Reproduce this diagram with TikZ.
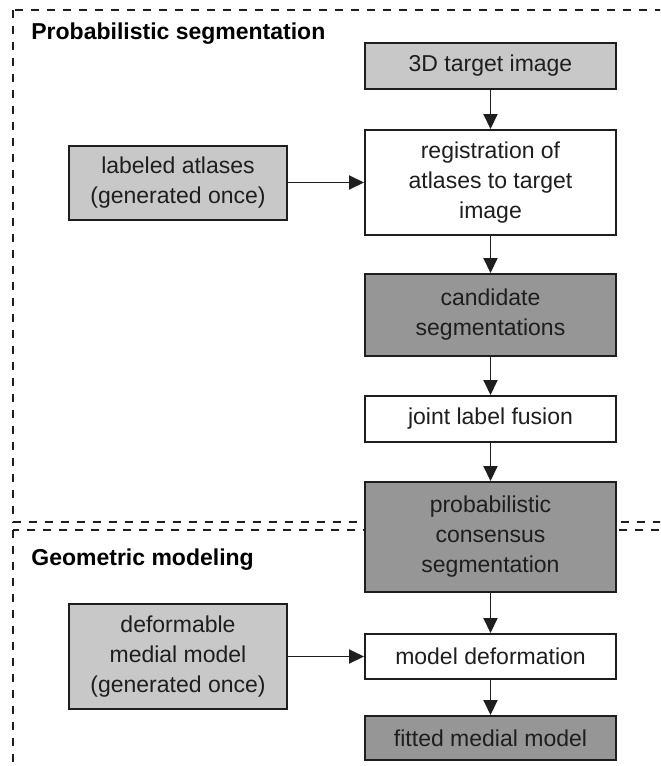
\documentclass[tikz,border=0pt]{standalone}
\usepackage{fontspec}
\setmainfont{Liberation Sans}
\usetikzlibrary{positioning,arrows.meta}

\definecolor{abuterang}{RGB}{200,200,200}
\definecolor{abugelap}{RGB}{150,150,150}
\definecolor{garis}{RGB}{30,30,30}

\begin{document}
\begin{tikzpicture}[>={Triangle[length=7.5pt,width=7pt]},
    kotak/.style={draw=garis, line width=1pt, align=center, inner sep=0pt,
        minimum width=125.5pt, text=garis, font=\fontsize{11.5}{15}\selectfont},
    judul/.style={inner sep=0pt, anchor=base west, text=black,
        font=\bfseries\fontsize{11.5}{15}\selectfont},
    bingkai/.style={draw=garis, line width=1.15pt, dash pattern=on 4pt off 4pt},
    panah/.style={->, draw=garis, line width=0.95pt}]
        \useasboundingbox (0,0) rectangle (330pt,-383pt);
        \clip (0,0) rectangle (330pt,-383pt);

        % Bingkai kedua tahap
        \draw[bingkai] (6.5pt,-5pt) rectangle (345pt,-261pt);
        \draw[bingkai] (6.5pt,-265pt) rectangle (345pt,-400pt);
        \node[judul] (judulseg) at (15.5pt,-19.5pt) {Probabilistic segmentation};
        \node[judul] (judulgeo) at (15.5pt,-282.5pt) {Geometric modeling};

        % Tahap segmentasi
        \node[kotak, fill=abuterang, minimum height=23pt] (target) at (245.25pt,-33pt) {3D target image};
        \node[kotak, fill=white, minimum height=52.5pt, below=19.5pt of target] (registrasi) {registration of\\atlases to target\\image};
        \node[kotak, fill=abugelap, minimum height=41pt, below=18.5pt of registrasi] (kandidat) {candidate\\segmentations};
        \node[kotak, fill=white, minimum height=23pt, below=19pt of kandidat] (fusi) {joint label fusion};
        \node[kotak, fill=abugelap, minimum height=55pt, below=19pt of fusi] (konsensus) {probabilistic\\consensus\\segmentation};
        \node[kotak, fill=abuterang, minimum width=109pt, minimum height=37pt, left=38pt of registrasi] (atlas) {labeled atlases\\(generated once)};

        % Tahap pemodelan
        \node[kotak, fill=white, minimum height=22.5pt, below=20pt of konsensus] (deformasi) {model deformation};
        \node[kotak, fill=abugelap, minimum height=22pt, below=17.5pt of deformasi] (hasil) {fitted medial model};
        \node[kotak, fill=abuterang, minimum width=109pt, minimum height=52.5pt, left=38pt of deformasi] (medial) {deformable\\medial model\\(generated once)};

        % Panah
        \draw[panah] (target) -- (registrasi);
        \draw[panah] (atlas) -- (registrasi);
        \draw[panah] (registrasi) -- (kandidat);
        \draw[panah] (kandidat) -- (fusi);
        \draw[panah] (fusi) -- (konsensus);
        \draw[panah] (konsensus) -- (deformasi);
        \draw[panah] (medial) -- (deformasi);
        \draw[panah] (deformasi) -- (hasil);
    \end{tikzpicture}
\end{document}
